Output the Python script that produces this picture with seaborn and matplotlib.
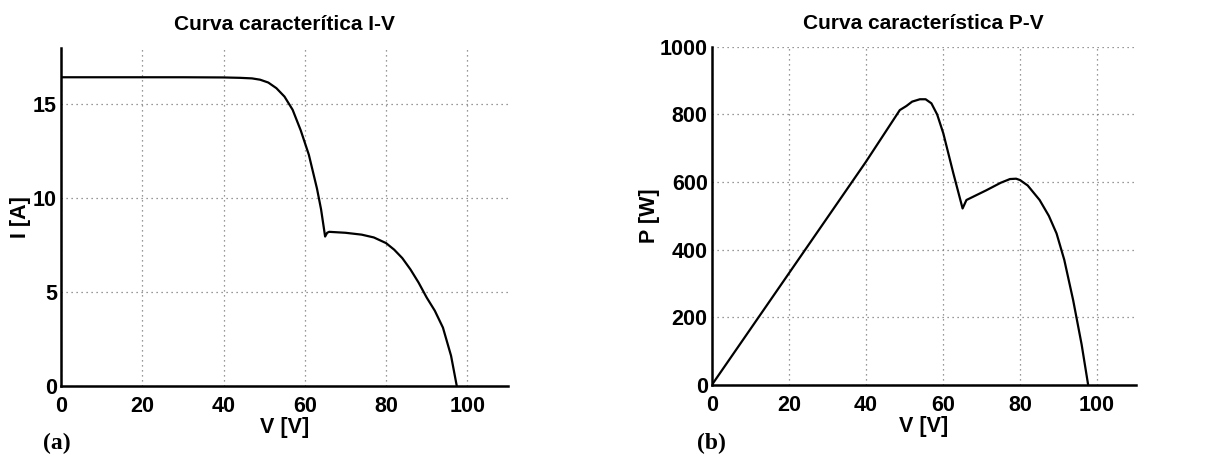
import numpy as np
import pandas as pd
import seaborn as sns
import matplotlib
matplotlib.use("Agg")
import matplotlib.pyplot as plt

# ---- data ----
V_iv = [0, 10, 20, 30, 40, 44, 47, 49, 51, 53, 55, 57, 59, 61, 63, 64, 65,
        65.5, 66, 70, 74, 77, 80, 82, 84, 86, 88, 90, 92, 94, 96, 97.4]
I_iv = [16.43, 16.43, 16.43, 16.43, 16.42, 16.4, 16.37, 16.3, 16.15, 15.85,
        15.4, 14.7, 13.6, 12.3, 10.5, 9.4, 7.95, 8.15, 8.2, 8.15, 8.05, 7.9,
        7.6, 7.25, 6.8, 6.2, 5.5, 4.7, 4.0, 3.1, 1.6, 0.0]

V_pv = [0, 10, 20, 30, 40, 48.8, 50.5, 52, 54, 55.5, 57, 58.5, 60.1, 62.7,
        65.1, 66.1, 71.3, 75, 77.4, 79, 80, 82, 85.1, 87.5, 89.5, 91.5, 93.8,
        96, 97.7]
P_pv = [0, 165, 330, 495, 660, 813, 825, 838, 845, 845, 833, 800, 744, 626,
        522, 547, 576, 598, 609, 610, 606, 590, 547, 500, 448, 370, 251,
        120, 0]

xticks = [0, 20, 40, 60, 80, 100]
yticks_iv = [0, 5, 10, 15]
yticks_pv = [0, 200, 400, 600, 800, 1000]

titles = ["Curva caracterítica I-V", "Curva característica P-V"]
ylabels = ["I [A]", "P [W]"]
xlabel = "V [V]"
panel_tags = ["(a)", "(b)"]

df_iv = pd.DataFrame({"V": V_iv, "I": I_iv})
df_pv = pd.DataFrame({"V": V_pv, "P": P_pv})

sns.set_style("white")
plt.rcParams['font.family'] = ['Liberation Sans', 'DejaVu Sans']
plt.rcParams['text.color'] = 'black'
plt.rcParams['axes.labelcolor'] = 'black'
plt.rcParams['xtick.color'] = 'black'
plt.rcParams['ytick.color'] = 'black'

fs = 15.5

fig = plt.figure(figsize=(12.21, 4.55), dpi=100)
ax1 = fig.add_axes([0.050, 0.152, 0.366, 0.743])
ax2 = fig.add_axes([0.583, 0.154, 0.347, 0.743])

sns.lineplot(data=df_iv, x="V", y="I", ax=ax1, color="black", lw=1.6,
             sort=False, estimator=None)
sns.lineplot(data=df_pv, x="V", y="P", ax=ax2, color="black", lw=1.6,
             sort=False, estimator=None)

for ax, yt, ylim, title, yl, ylp in [
        (ax1, yticks_iv, (0, 18), titles[0], ylabels[0], 1),
        (ax2, yticks_pv, (0, 1000), titles[1], ylabels[1], 0)]:
    ax.set_xlim(0, 110)
    ax.set_ylim(*ylim)
    ax.set_xticks(xticks)
    ax.set_yticks(yt)
    ax.grid(True, linestyle=(0, (1, 3)), color="#777777", linewidth=0.9)
    ax.set_axisbelow(True)
    for s in ["top", "right"]:
        ax.spines[s].set_visible(False)
    for s in ["left", "bottom"]:
        ax.spines[s].set_color("black")
        ax.spines[s].set_linewidth(1.8)
    ax.tick_params(direction="in", length=5, width=1.2, colors="black",
                   labelsize=fs)
    ax.tick_params(axis="x", pad=7)
    ax.tick_params(axis="y", pad=3)
    for lab in ax.get_xticklabels() + ax.get_yticklabels():
        lab.set_fontweight("bold")
    ax.set_title(title, fontsize=15, fontweight="bold", pad=13, color="black")
    ax.set_xlabel(xlabel, fontsize=fs, fontweight="bold", labelpad=0,
                  color="black")
    ax.set_ylabel(yl, fontsize=fs, fontweight="bold", labelpad=ylp,
                  color="black")

fig.text(43 / 1221, 1 - 443 / 455, panel_tags[0], family="Liberation Serif",
         fontweight="bold", fontsize=17, va="center", ha="left", color="black")
fig.text(697 / 1221, 1 - 443 / 455, panel_tags[1], family="Liberation Serif",
         fontweight="bold", fontsize=17, va="center", ha="left", color="black")

fig.savefig("out.png", dpi=100, facecolor="white")
